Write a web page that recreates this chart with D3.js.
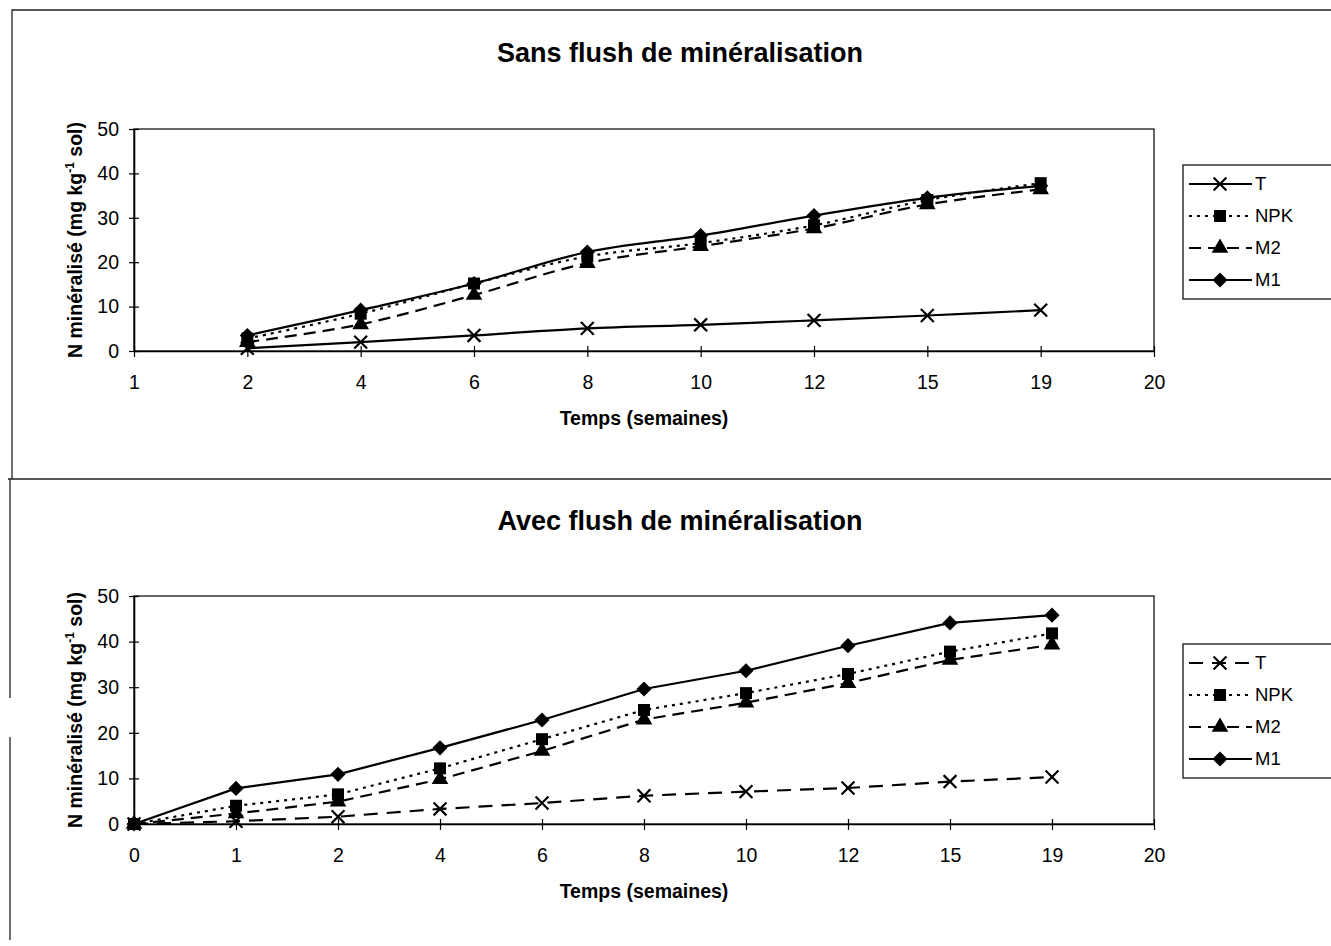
<!DOCTYPE html>
<html>

<head>
  <meta charset="utf-8">
  <title>N minéralisé</title>
  <style>
    body { margin: 0; background: #fff; }
    text { font-family: "Liberation Sans", Arial, sans-serif; fill: #000; }
  </style>
</head>

<body>
  <svg width="1331" height="946"></svg>
  <script src="https://d3js.org/d3.v7.min.js"></script>
  <script>
    // 1. data
    var seriesNames = ["T", "NPK", "M2", "M1"];

    var sansWeeks = ["1", "2", "4", "6", "8", "10", "12", "15", "19", "20"];
    var sansT   = [null, 0.6, 2.0, 3.5, 5.1, 5.9, 6.9, 8.0, 9.2, null];
    var sansNPK = [null, 2.8, 8.4, 15.2, 21.3, 24.3, 28.3, 34.0, 37.8, null];
    var sansM2  = [null, 2.0, 6.0, 12.6, 19.8, 23.6, 27.6, 33.0, 36.4, null];
    var sansM1  = [null, 3.5, 9.2, 15.2, 22.3, 26.0, 30.5, 34.5, 37.2, null];

    var avecWeeks = ["0", "1", "2", "4", "6", "8", "10", "12", "15", "19", "20"];
    var avecT   = [0, 0.6, 1.6, 3.3, 4.6, 6.2, 7.1, 7.9, 9.3, 10.3, null];
    var avecNPK = [0, 4.0, 6.5, 12.2, 18.6, 25.0, 28.7, 32.9, 37.8, 41.8, null];
    var avecM2  = [0, 2.3, 4.9, 9.8, 16.0, 22.9, 26.6, 30.9, 36.0, 39.3, null];
    var avecM1  = [0, 7.8, 10.9, 16.7, 22.8, 29.6, 33.6, 39.1, 44.1, 45.8, null];

    var yTicks = [0, 10, 20, 30, 40, 50];

    var svg = d3.select("svg");

    // outer frames (scanned page borders)
    svg.append("path")
      .attr("d", "M12,479 L12,10 L1331,10 M8,479 L1331,479 M10,479 L10,698 M10,737 L10,940")
      .attr("fill", "none").attr("stroke", "#222").attr("stroke-width", 1.3);

    // marker shapes
    var squareDiamond = {
      draw: function (ctx, size) {
        var r = Math.sqrt(size / 2);
        ctx.moveTo(0, -r); ctx.lineTo(r, 0); ctx.lineTo(0, r); ctx.lineTo(-r, 0); ctx.closePath();
      }
    };
    var markerSym = {
      "T": d3.symbolX, "NPK": d3.symbolSquare, "M2": d3.symbolTriangle, "M1": squareDiamond
    };
    var markerSize = { "T": 110, "NPK": 144, "M2": 120, "M1": 115 };

    function drawMarker(g, name, x, y) {
      var p = g.append("path")
        .attr("transform", "translate(" + x + "," + y + ")")
        .attr("d", d3.symbol().type(markerSym[name]).size(markerSize[name])());
      if (name === "T") p.attr("fill", "none").attr("stroke", "#000").attr("stroke-width", 2.2);
      else p.attr("fill", "#000");
    }

    // 2. one chart panel
    function drawChart(opt) {
      var g = svg.append("g");
      var x = d3.scalePoint().domain(opt.weeks).range([134, 1154]).padding(0);
      var y = d3.scaleLinear().domain([0, 50]).range([opt.y0, opt.y50]);

      g.append("text")
        .attr("x", 680).attr("y", opt.titleY)
        .attr("text-anchor", "middle")
        .attr("font-size", 27).attr("font-weight", "bold")
        .text(opt.title);

      // plot border
      g.append("rect")
        .attr("x", 134).attr("y", opt.y50)
        .attr("width", 1020).attr("height", opt.y0 - opt.y50)
        .attr("fill", "none").attr("stroke", "#000").attr("stroke-width", 1.2);

      // y axis
      var yAxis = g.append("g").attr("transform", "translate(134,0)")
        .call(d3.axisLeft(y).tickValues(yTicks).tickSize(0).tickPadding(15));
      yAxis.select(".domain").attr("stroke", "#000").attr("stroke-width", 1.6);
      yAxis.selectAll("text").attr("font-size", 19.5).attr("font-family", "Liberation Sans, Arial, sans-serif");
      yAxis.selectAll(".tick").append("line")
        .attr("x1", -5).attr("x2", 5).attr("stroke", "#000").attr("stroke-width", 1.2);

      // x axis
      var xAxis = g.append("g").attr("transform", "translate(0," + opt.y0 + ")")
        .call(d3.axisBottom(x).tickSize(0).tickPadding(24));
      xAxis.select(".domain").attr("stroke", "#000").attr("stroke-width", 1.6);
      xAxis.selectAll("text").attr("font-size", 19.5).attr("font-family", "Liberation Sans, Arial, sans-serif");
      xAxis.selectAll(".tick").append("line")
        .attr("y1", -5).attr("y2", 6).attr("stroke", "#000").attr("stroke-width", 1.2);

      // axis titles
      g.append("text")
        .attr("x", 644).attr("y", opt.y0 + 74)
        .attr("text-anchor", "middle")
        .attr("font-size", 19.5).attr("font-weight", "bold")
        .text("Temps (semaines)");

      var yl = g.append("text")
        .attr("transform", "translate(82," + (opt.y0 + opt.y50) / 2 + ") rotate(-90)")
        .attr("text-anchor", "middle")
        .attr("font-size", 19.5).attr("font-weight", "bold");
      yl.append("tspan").text("N minéralisé (mg kg");
      yl.append("tspan").attr("dy", -8).attr("font-size", 12).text("-1");
      yl.append("tspan").attr("dy", 8).text(" sol)");

      // series
      var line = d3.line()
        .defined(function (d) { return d.v !== null; })
        .x(function (d) { return x(d.w); })
        .y(function (d) { return y(d.v); })
        .curve(opt.curve);

      seriesNames.forEach(function (name, k) {
        var pts = opt.weeks.map(function (w, i) { return { w: w, v: opt.values[k][i] }; });
        g.append("path")
          .attr("d", line(pts))
          .attr("fill", "none").attr("stroke", "#000").attr("stroke-width", 2.2)
          .attr("stroke-dasharray", opt.dash[k]);
      });
      seriesNames.forEach(function (name, k) {
        opt.weeks.forEach(function (w, i) {
          var v = opt.values[k][i];
          if (v !== null) drawMarker(g, name, x(w), y(v));
        });
      });

      // legend
      var lg = g.append("g");
      lg.append("rect")
        .attr("x", 1183).attr("y", opt.legTop)
        .attr("width", 170).attr("height", 134)
        .attr("fill", "#fff").attr("stroke", "#000").attr("stroke-width", 1.2);
      seriesNames.forEach(function (name, k) {
        var ly = opt.legTop + 19 + k * 32;
        lg.append("line")
          .attr("x1", 1189).attr("x2", 1252).attr("y1", ly).attr("y2", ly)
          .attr("stroke", "#000").attr("stroke-width", 2.2)
          .attr("stroke-dasharray", opt.dash[k]);
        drawMarker(lg, name, 1220, ly);
        lg.append("text")
          .attr("x", 1255).attr("y", ly).attr("dy", "0.35em")
          .attr("font-size", 18.5)
          .text(name);
      });
    }

    drawChart({
      title: "Sans flush de minéralisation", titleY: 62,
      weeks: sansWeeks, values: [sansT, sansNPK, sansM2, sansM1],
      y0: 351, y50: 129, legTop: 165,
      dash: [null, "3,5", "12,7", null],
      curve: d3.curveCatmullRom
    });

    drawChart({
      title: "Avec flush de minéralisation", titleY: 530,
      weeks: avecWeeks, values: [avecT, avecNPK, avecM2, avecM1],
      y0: 824, y50: 596, legTop: 644,
      dash: ["14,9", "3,5", "12,7", null],
      curve: d3.curveLinear
    });
  </script>
</body>

</html>
